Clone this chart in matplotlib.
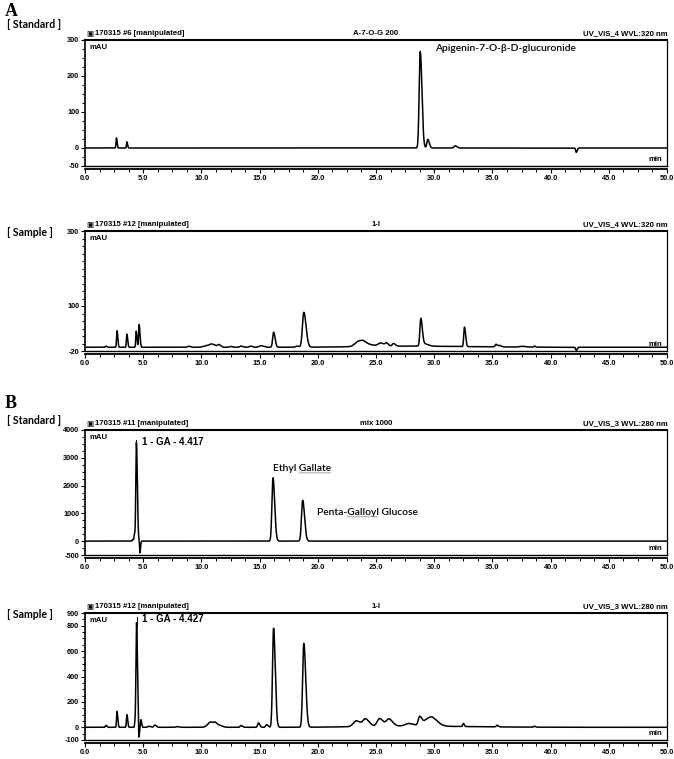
import numpy as np
import matplotlib
matplotlib.use("Agg")
import matplotlib.pyplot as plt
from matplotlib.ticker import FixedLocator, MultipleLocator

# ---------------- data ----------------
x_ticks = [0, 5, 10, 15, 20, 25, 30, 35, 40, 45, 50]
x_tick_labels = ["0.0", "5.0", "10.0", "15.0", "20.0", "25.0", "30.0",
                 "35.0", "40.0", "45.0", "50.0"]

# A - Standard (UV 320 nm)
a_std_rt = [2.7, 3.6, 28.8, 29.45, 31.8, 42.2]
a_std_h = [28, 17, 268, 24, 6, -12]
a_std_w = [0.035, 0.035, 0.09, 0.08, 0.1, 0.05]
a_std_base = 0.0
a_std_yticks = [300, 200, 100, 0, -50]

# A - Sample (UV 320 nm)
a_smp_rt = [1.8, 2.75, 3.6, 4.4, 4.65, 8.9, 10.5, 10.9, 11.5, 12.5, 13.4, 14.2,
            15.1, 16.2, 18.2, 18.8, 23.5, 23.9, 24.6, 25.4, 25.9, 26.5, 27.0,
            28.85, 29.2, 32.6, 35.3, 35.6, 37.5, 38.6, 42.2]
a_smp_h = [3, 44, 35, 43, 61, 3, 4, 6, 6, 2, 3, 3,
           4, 40, 3, 93, 14, 6, 3, 8, 7, 7, 3,
           73, 6, 52, 7, 4, 2, 3, -9]
a_smp_w = [0.05, 0.04, 0.04, 0.04, 0.045, 0.08, 0.3, 0.2, 0.1, 0.1, 0.1, 0.1,
           0.15, 0.08, 0.1, 0.12, 0.3, 0.2, 0.3, 0.2, 0.1, 0.1, 3.5,
           0.08, 0.2, 0.06, 0.07, 0.1, 0.2, 0.05, 0.05]
a_smp_base = -10.0
a_smp_yticks = [300, 100, -20]

# B - Standard (UV 280 nm)
b_std_rt = [4.1, 4.25, 4.417, 4.72, 16.15, 18.7]
b_std_h = [60, 250, 3550, -430, 2280, 1470]
b_std_w = [0.04, 0.04, 0.05, 0.03, 0.09, 0.1]
b_std_base = 0.0
b_std_yticks = [4000, 3000, 2000, 1000, 0, -500]

# B - Sample (UV 280 nm)
b_smp_rt = [1.8, 2.75, 3.6, 4.3, 4.427, 4.62, 4.8, 5.5, 6.0, 7.9, 10.8, 11.2,
            11.6, 13.4, 14.9, 15.6, 16.2, 18.8, 23.3, 24.1, 25.3, 26.1, 27.8,
            28.75, 29.4, 29.9, 32.5, 35.4, 38.6, 27.0]
b_smp_h = [15, 125, 100, 40, 820, -110, 60, 8, 18, 5, 42, 15,
           10, 14, 35, 20, 780, 660, 45, 55, 60, 55, 20,
           70, 50, 40, 25, 13, 8, 10]
b_smp_w = [0.05, 0.04, 0.04, 0.04, 0.05, 0.03, 0.04, 0.1, 0.08, 0.1, 0.25, 0.1,
           0.15, 0.08, 0.07, 0.08, 0.09, 0.1, 0.25, 0.2, 0.2, 0.2, 0.3,
           0.12, 0.3, 0.3, 0.05, 0.07, 0.05, 3.5]
b_smp_base = 0.0
b_smp_yticks = [900, 800, 600, 400, 200, 0, -100]

# ---------------- figure ----------------
W, H = 674, 759
fig = plt.figure(figsize=(W / 100, H / 100), dpi=100)
fig.patch.set_facecolor("white")

LEFT, RIGHT = 85, 667
TICKFONT = dict(family="Liberation Sans", size=5.3, weight="bold")
HDRFONT = dict(family="Liberation Sans", size=5.6, weight="bold")
LABFONT = dict(family="Lato", size=7.6, weight="bold")
ANNFONT = dict(family="Lato", size=7.4, weight="semibold")

t = np.linspace(0, 50, 25001)


def trace(rt, h, w, base):
    y = np.full_like(t, base)
    for r, a, s in zip(rt, h, w):
        sig = np.where(t < r, s, s * 1.6)
        y += a * np.exp(-0.5 * ((t - r) / sig) ** 2)
    return y


def fy(px):
    return 1 - px / H


def fx(px):
    return px / W


def panel(top, bottom, ylim, yticks, yminor, rt, h, w, base,
          hdr_left, hdr_mid, hdr_right):
    ax = fig.add_axes([fx(LEFT), fy(bottom), (RIGHT - LEFT) / W, (bottom - top) / H])
    ax.spines["bottom"].set_position(("outward", 2.2))
    ax.plot(t, trace(rt, h, w, base), color="black", lw=1.1)
    ax.set_xlim(0, 50)
    ax.set_ylim(*ylim)
    ax.xaxis.set_major_locator(FixedLocator(x_ticks))
    ax.set_xticklabels(x_tick_labels, **TICKFONT)
    ax.xaxis.set_minor_locator(MultipleLocator(1.25))
    ax.yaxis.set_major_locator(FixedLocator(yticks))
    ax.set_yticklabels([str(v) for v in yticks], **TICKFONT)
    ax.yaxis.set_minor_locator(MultipleLocator(yminor))
    ax.tick_params(axis="both", which="major", direction="out", length=3,
                   width=0.8, pad=1.2)
    ax.tick_params(axis="both", which="minor", direction="out", length=2,
                   width=0.7)
    ax.spines["top"].set_linewidth(1.5)
    ax.spines["right"].set_linewidth(0.9)
    ax.spines["left"].set_linewidth(1.2)
    ax.spines["bottom"].set_linewidth(1.3)
    ax.axhline(ylim[0], color="black", lw=1.0, clip_on=False)
    ax.text(0.008, 0.965, "mAU", transform=ax.transAxes, ha="left", va="top",
            **HDRFONT)
    ax.text(0.992, 0.025, "min", transform=ax.transAxes, ha="right",
            va="bottom", **HDRFONT)
    yh = fy(top - 6.5)
    fig.text(fx(LEFT + 1), yh, "\u25a3", ha="left", va="center",
             family="DejaVu Sans", size=5.5)
    fig.text(fx(LEFT + 9.5), yh, hdr_left, ha="left", va="center", **HDRFONT)
    fig.text(fx((LEFT + RIGHT) / 2), yh, hdr_mid, ha="center", va="center",
             **HDRFONT)
    fig.text(fx(RIGHT + 1), yh, hdr_right, ha="right", va="center", **HDRFONT)
    return ax


def squiggle(ax, txt, full, word):
    fig.canvas.draw()
    r = fig.canvas.get_renderer()
    bb = txt.get_window_extent(r)
    tmp = ax.text(0, 0, full[: full.index(word)], **ANNFONT)
    pre = tmp.get_window_extent(r).width
    tmp.set_text(word)
    ww = tmp.get_window_extent(r).width
    tmp.remove()
    x0 = bb.x0 + pre
    xs = np.arange(x0, x0 + ww, 1.0)
    ys = bb.y0 + 0.6 + 0.6 * ((np.arange(len(xs)) % 2) * 2 - 1)
    inv = fig.transFigure.inverted()
    pts = inv.transform(np.column_stack([xs, ys]))
    fig.add_artist(plt.Line2D(pts[:, 0], pts[:, 1], color="#777777", lw=0.5,
                              transform=fig.transFigure, linestyle=(0, (1, 0.6))))


# panel letters and labels
fig.text(fx(5), fy(11), "A", family="Liberation Serif", weight="bold", size=13,
         ha="left", va="center")
fig.text(fx(5), fy(404), "B", family="Liberation Serif", weight="bold", size=13,
         ha="left", va="center")
fig.text(fx(7), fy(25), "[ Standard ]", ha="left", va="center", **LABFONT)
fig.text(fx(7), fy(233), "[ Sample ]", ha="left", va="center", **LABFONT)
fig.text(fx(7), fy(421), "[ Standard ]", ha="left", va="center", **LABFONT)
fig.text(fx(7), fy(615), "[ Sample ]", ha="left", va="center", **LABFONT)

ax1 = panel(40, 166, (-50, 300), a_std_yticks, 25, a_std_rt, a_std_h, a_std_w,
            a_std_base, "170315 #6 [manipulated]", "A-7-O-G 200",
            "UV_VIS_4 WVL:320 nm")
ax1.text(30.1, 277, "Apigenin-7-O-\u03b2-D-glucuronide", ha="left", va="center",
         **ANNFONT)

ax2 = panel(231, 351, (-20, 300), a_smp_yticks, 20, a_smp_rt, a_smp_h, a_smp_w,
            a_smp_base, "170315 #12 [manipulated]", "1-I",
            "UV_VIS_4 WVL:320 nm")

ax3 = panel(430, 555, (-500, 4000), b_std_yticks, 250, b_std_rt, b_std_h, b_std_w,
            b_std_base, "170315 #11 [manipulated]", "mix 1000",
            "UV_VIS_3 WVL:280 nm")
ax3.plot([b_std_rt[2], b_std_rt[2]], [3350, 3650], color="black", lw=0.7)
ax3.text(4.9, 3580, "1 - GA - 4.417", ha="left", va="center",
         family="Liberation Sans", size=7, weight="bold")
t_eth = ax3.text(16.15, 2600, "Ethyl Gallate", ha="left", va="center", **ANNFONT)
t_pgg = ax3.text(19.9, 1020, "Penta-Galloyl Glucose", ha="left", va="center",
                 **ANNFONT)

ax4 = panel(613, 740, (-100, 900), b_smp_yticks, 50, b_smp_rt, b_smp_h, b_smp_w,
            b_smp_base, "170315 #12 [manipulated]", "1-I",
            "UV_VIS_3 WVL:280 nm")
ax4.plot([b_smp_rt[4], b_smp_rt[4]], [800, 870], color="black", lw=0.7)
ax4.text(4.9, 855, "1 - GA - 4.427", ha="left", va="center",
         family="Liberation Sans", size=7, weight="bold")

squiggle(ax3, t_eth, "Ethyl Gallate", "Gallate")
squiggle(ax3, t_pgg, "Penta-Galloyl Glucose", "Galloyl")

fig.savefig("out.png", dpi=100, facecolor="white")
